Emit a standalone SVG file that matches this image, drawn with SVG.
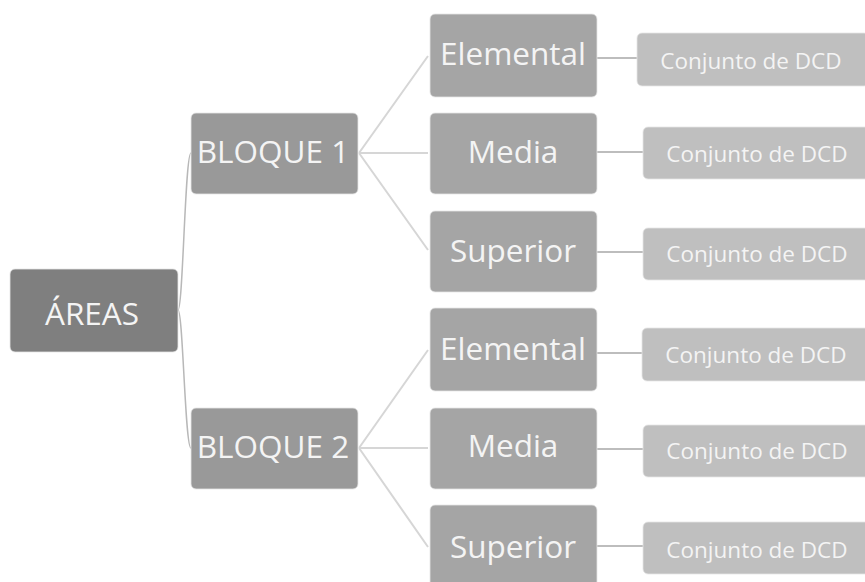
<svg xmlns="http://www.w3.org/2000/svg" width="865" height="582" viewBox="0 0 865 582">
  <style>
    text { font-family: "Open Sans", "Liberation Sans", sans-serif; fill: #f4f4f4; text-anchor: middle; }
    .l1 rect { fill: #7f7f7f; stroke: #e6e6e6; stroke-width: 0.8; }
    .l2 rect { fill: #999999; stroke: #e6e6e6; stroke-width: 0.8; }
    .l3 rect { fill: #a5a5a5; stroke: #e6e6e6; stroke-width: 0.8; }
    .l4 rect { fill: #bfbfbf; stroke: #e6e6e6; stroke-width: 0.8; }
    .big { font-size: 31.5px; }
    .small { font-size: 22.5px; }
    .c1 { fill: none; stroke: #b8b8b8; stroke-width: 1.5; }
    .c2 { fill: none; stroke: #d6d6d6; stroke-width: 2; }
    .c3 { fill: none; stroke: #a8a8a8; stroke-width: 1.5; }
  </style>
  <rect width="865" height="582" fill="#ffffff"/>

  <g id="connectors">
    <path class="c1" d="M178,310 C183,310 185,153 191,153"/>
    <path class="c1" d="M178,310 C183,310 185,448 191,448"/>
    <path class="c2" d="M359,153 L428,56 M359,153 L428,153 M359,153 L428,250"/>
    <path class="c2" d="M359,448 L428,350 M359,448 L428,448 M359,448 L428,547"/>
    <path class="c3" d="M597,58 H637 M597,152 H643 M597,252 H643 M597,353 H643 M597,449 H643 M597,546 H643"/>
  </g>

  <g id="areas" class="l1">
    <rect x="10" y="269" width="168" height="83" rx="5"/>
    <text class="big" x="92" y="325">ÁREAS</text>
  </g>

  <g id="bloque1" class="l2">
    <rect x="191" y="113" width="167" height="81" rx="5"/>
    <text class="big" x="273" y="163">BLOQUE 1</text>
  </g>
  <g id="bloque2" class="l2">
    <rect x="191" y="408" width="167" height="81" rx="5"/>
    <text class="big" x="273" y="458">BLOQUE 2</text>
  </g>

  <g id="b1-elemental" class="l3">
    <rect x="430" y="14" width="167" height="83" rx="5"/>
    <text class="big" x="513" y="65">Elemental</text>
  </g>
  <g id="b1-media" class="l3">
    <rect x="430" y="113" width="167" height="81" rx="5"/>
    <text class="big" x="513" y="163">Media</text>
  </g>
  <g id="b1-superior" class="l3">
    <rect x="430" y="211" width="167" height="81" rx="5"/>
    <text class="big" x="513" y="262">Superior</text>
  </g>
  <g id="b2-elemental" class="l3">
    <rect x="430" y="308" width="167" height="83" rx="5"/>
    <text class="big" x="513" y="360">Elemental</text>
  </g>
  <g id="b2-media" class="l3">
    <rect x="430" y="408" width="167" height="81" rx="5"/>
    <text class="big" x="513" y="457">Media</text>
  </g>
  <g id="b2-superior" class="l3">
    <rect x="430" y="505" width="167" height="83" rx="5"/>
    <text class="big" x="513" y="558">Superior</text>
  </g>

  <g id="dcd-1" class="l4">
    <rect x="637" y="33" width="232" height="53" rx="5"/>
    <text class="small" x="751" y="69">Conjunto de DCD</text>
  </g>
  <g id="dcd-2" class="l4">
    <rect x="643" y="127" width="232" height="52" rx="5"/>
    <text class="small" x="757" y="162">Conjunto de DCD</text>
  </g>
  <g id="dcd-3" class="l4">
    <rect x="643" y="228" width="232" height="52" rx="5"/>
    <text class="small" x="757" y="262">Conjunto de DCD</text>
  </g>
  <g id="dcd-4" class="l4">
    <rect x="642" y="328" width="232" height="53" rx="5"/>
    <text class="small" x="756" y="363">Conjunto de DCD</text>
  </g>
  <g id="dcd-5" class="l4">
    <rect x="643" y="425" width="232" height="52" rx="5"/>
    <text class="small" x="757" y="459">Conjunto de DCD</text>
  </g>
  <g id="dcd-6" class="l4">
    <rect x="643" y="522" width="232" height="52" rx="5"/>
    <text class="small" x="757" y="558">Conjunto de DCD</text>
  </g>
</svg>
